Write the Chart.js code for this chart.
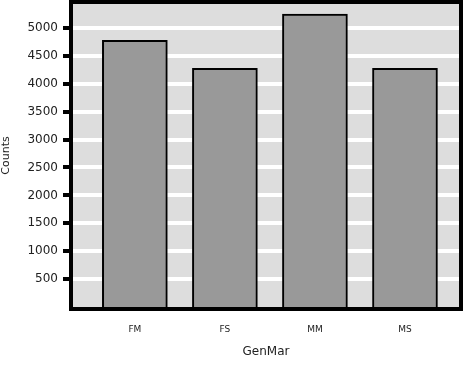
<!DOCTYPE html>
<html>
<head>
<meta charset="utf-8">
<script src="https://cdn.jsdelivr.net/npm/chart.js@4/dist/chart.umd.min.js"></script>
<style>
  html, body { margin: 0; padding: 0; background: #fff; }
</style>
</head>
<body>
<canvas id="myCanvas" width="464" height="366"></canvas>
<script>
const categories = ["FM", "FS", "MM", "MS"];
const counts = [4780, 4275, 5250, 4275];
const yTicks = [500, 1000, 1500, 2000, 2500, 3000, 3500, 4000, 4500, 5000];

// grey panel behind the bars
const panelBg = {
  id: "panelBg",
  beforeDraw(chart) {
    const { ctx, chartArea: a } = chart;
    ctx.save();
    ctx.fillStyle = "#dddddd";
    ctx.fillRect(a.left, a.top, a.right - a.left, a.bottom - a.top);
    ctx.restore();
  }
};

// thick black frame round the panel
const panelFrame = {
  id: "panelFrame",
  afterDraw(chart) {
    const { ctx, chartArea: a } = chart;
    ctx.save();
    ctx.strokeStyle = "#000";
    ctx.lineWidth = 4;
    ctx.strokeRect(a.left - 2, a.top - 2, a.right - a.left + 4, a.bottom - a.top + 4);
    ctx.restore();
  }
};

Chart.defaults.font.family = "'DejaVu Sans', sans-serif";

const ctx = document.getElementById("myCanvas").getContext("2d");
const chart = new Chart(ctx, {
  type: "bar",
  data: {
    datasets: [{
      data: counts.map((v, i) => ({ x: i, y: v })),
      backgroundColor: "#999999",
      borderColor: "#000",
      borderWidth: 2,
      barThickness: 65
    }]
  },
  options: {
    responsive: false,
    animation: false,
    layout: { padding: { top: 4, right: 5, left: 0, bottom: 0 } },
    plugins: {
      legend: { display: false },
      tooltip: { enabled: false }
    },
    scales: {
      x: {
        type: "linear",
        offset: false,
        min: -0.687,
        max: 3.6,
        afterBuildTicks: s => { s.ticks = categories.map((c, i) => ({ value: i })); },
        afterFit: s => {
          s.height = 59;
          s.paddingLeft = 0;
          s.paddingRight = 0;
        },
        grid: { display: false, drawTicks: false, offset: false },
        border: { display: false },
        ticks: {
          padding: 17,
          color: "#222",
          font: { size: 9 },
          maxRotation: 0,
          autoSkip: false,
          callback: v => categories[v]
        },
        title: {
          display: true,
          text: "GenMar",
          color: "#222",
          font: { size: 12 },
          padding: { top: 0, bottom: 7 }
        }
      },
      y: {
        min: 0,
        max: 5430,
        afterBuildTicks: s => { s.ticks = yTicks.map(v => ({ value: v })); },
        afterFit: s => {
          s.width = 73;
          s.paddingTop = 0;
          s.paddingBottom = 0;
        },
        grid: { color: "#ffffff", lineWidth: 4, tickColor: "#000", tickLength: 10 },
        border: { display: false },
        ticks: {
          padding: 5,
          color: "#222",
          font: { size: 12 },
          callback: v => String(v)
        },
        title: {
          display: true,
          text: "Counts",
          color: "#222",
          font: { size: 11 },
          padding: 0
        }
      }
    }
  },
  plugins: [panelBg, panelFrame]
});
</script>
</body>
</html>
